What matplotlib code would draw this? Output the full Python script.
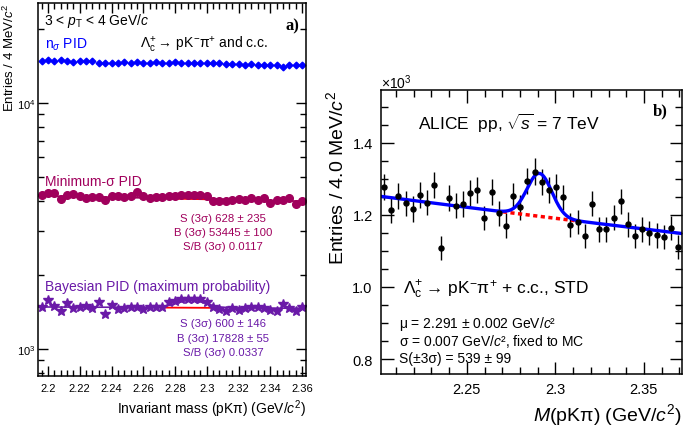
import numpy as np
import matplotlib.pyplot as plt
from matplotlib.ticker import MultipleLocator, FormatStrFormatter, LogLocator, NullFormatter, FixedLocator

plt.rcParams['font.family'] = ['Liberation Sans', 'DejaVu Sans']
plt.rcParams['mathtext.fontset'] = 'custom'
plt.rcParams['mathtext.rm'] = 'Liberation Sans'
plt.rcParams['mathtext.it'] = 'Liberation Sans:italic'
plt.rcParams['mathtext.bf'] = 'Liberation Sans:bold'

# ---- panel a) data: three PID strategies, 4 MeV bins ----
mass_a = np.round(2.196 + 0.004 * np.arange(42), 3)

nsigma_counts = [14820, 14850, 14820, 14850, 14830, 14580, 14750, 14760, 14780, 14520,
                 14560, 14550, 14560, 14570, 14540, 14580, 14520, 14560, 14580, 14540,
                 14560, 14570, 14560, 14520, 14550, 14500, 14450, 14500, 14470, 14300,
                 14350, 14300, 14280, 14350, 14250, 14220, 14200, 14230, 14000, 14250,
                 14220, 14180]

minsigma_counts = [4200, 4290, 4310, 4060, 4230, 4240, 4170, 4100, 4150, 4140,
                   4040, 4180, 4190, 4150, 4160, 4330, 4160, 4090, 4140, 4140,
                   4160, 4170, 4210, 4200, 4200, 4230, 4180, 4000, 3980, 3990,
                   4030, 4060, 4010, 4090, 4040, 4110, 3900, 4040, 4030, 4090,
                   3890, 3980]

bayes_counts = [1484, 1578, 1497, 1428, 1531, 1465, 1484, 1497, 1465, 1546,
                1386, 1511, 1452, 1465, 1484, 1475, 1452, 1475, 1475, 1475,
                1546, 1570, 1593, 1593, 1593, 1593, 1546, 1475, 1452, 1428,
                1465, 1439, 1465, 1484, 1484, 1465, 1439, 1428, 1520, 1465,
                1428, 1475]

# fit parameters read off panel a) (background ends, gaussian amplitude/mean/width, bkg-only range)
minsigma_bkg = [4180, 3980]
minsigma_gaus = [111, 2.289, 0.009]
minsigma_range = [2.277, 2.304]
bayes_bkg = [1480, 1462]
bayes_gaus = [106, 2.290, 0.009]
bayes_range = [2.272, 2.306]

# ---- panel b) data ----
mass_b = np.linspace(2.2032, 2.3693, 42)
counts_b = [1277, 1212, 1252, 1232, 1216, 1255, 1234, 1283, 1108, 1246,
            1225, 1230, 1260, 1269, 1191, 1264, 1204, 1170, 1252, 1221,
            1294, 1320, 1290, 1268, 1277, 1248, 1172, 1180, 1141, 1231,
            1160, 1160, 1192, 1237, 1174, 1141, 1160, 1150, 1143, 1138,
            1163, 1112]
fit_bkg0 = 1252      # background at 2.2 GeV/c^2
fit_slope = -0.505   # exponential slope
fit_amp = 119
fit_mu = 2.291
fit_sigma = 0.007
bkg_only_range = [2.270, 2.311]

blue = '#0000ff'
maroon = '#a0005c'
purple = '#6a1aa8'

LC = '$\\Lambda_{\\rm c}^{+} \\rightarrow\\,$pK$^{-}$π$^{+}$'


def ticks_inside(ax, major, minor):
    ax.tick_params(which='both', direction='in', top=True, right=True, width=1.0)
    ax.tick_params(which='major', length=major)
    ax.tick_params(which='minor', length=minor)
    for s in ax.spines.values():
        s.set_linewidth(1.1)


fig = plt.figure(figsize=(6.85, 4.35), dpi=100)

# ================= panel a) =================
ax1 = fig.add_axes([0.0555, 0.1333, 0.3912, 0.8575])
x_a = mass_a
ax1.errorbar(x_a, nsigma_counts, yerr=np.sqrt(nsigma_counts), fmt='D', ms=3.4,
             color=blue, mec=blue, elinewidth=0.8, capsize=0)

xx = np.linspace(2.194, 2.3625, 400)


def pid_fit(x, bkg, gaus):
    b = bkg[0] * (bkg[1] / bkg[0]) ** ((x - 2.196) / 0.164)
    return b, b + gaus[0] * np.exp(-0.5 * ((x - gaus[1]) / gaus[2]) ** 2)


b_ms, t_ms = pid_fit(xx, minsigma_bkg, minsigma_gaus)
ax1.plot(xx, t_ms, color=maroon, lw=1.2)
sel = (xx >= minsigma_range[0]) & (xx <= minsigma_range[1])
ax1.plot(xx[sel], b_ms[sel], color='red', lw=1.3)
ax1.plot(x_a, minsigma_counts, 'o', ms=5.5, color=maroon)

b_by, t_by = pid_fit(xx, bayes_bkg, bayes_gaus)
ax1.plot(xx, t_by, color=purple, lw=1.2)
sel = (xx >= bayes_range[0]) & (xx <= bayes_range[1])
ax1.plot(xx[sel], b_by[sel], color='red', lw=1.3)
ax1.plot(x_a, bayes_counts, '*', ms=7, color=purple)

ax1.set_yscale('log')
ax1.set_xlim(2.1937, 2.3625)
ax1.set_ylim(776, 25400)
ax1.xaxis.set_major_locator(MultipleLocator(0.02))
ax1.xaxis.set_minor_locator(MultipleLocator(0.004))
ax1.xaxis.set_major_formatter(FormatStrFormatter('%g'))
ax1.yaxis.set_major_locator(LogLocator(base=10))
ax1.yaxis.set_minor_locator(LogLocator(base=10, subs=np.arange(2, 10)))
ax1.yaxis.set_minor_formatter(NullFormatter())
ticks_inside(ax1, 7, 4)
ax1.tick_params(axis='x', labelsize=8, pad=5)
ax1.tick_params(axis='y', labelsize=8, pad=2)
ax1.set_xlabel('Invariant mass (pKπ) (GeV/$c^2$)', fontsize=10, loc='right')
ax1.xaxis.set_label_coords(1.0, -0.056)
ax1.set_ylabel('Entries / 4 MeV/$c^2$', fontsize=9.5, loc='top')
ax1.yaxis.set_label_coords(-0.08, 1.0)

t = ax1.transAxes
ax1.text(0.022, 0.954, '3 < $p_{\\rm T}$ < 4 GeV/$c$', transform=t, fontsize=10, va='center')
ax1.text(0.948, 0.941, 'a)', transform=t, fontsize=12, va='center', ha='center',
         family='Liberation Serif', weight='bold')
ax1.text(0.026, 0.89, 'n$_{σ}$ PID', transform=t, fontsize=10, va='center', color=blue)
ax1.text(0.381, 0.89, LC + ' and c.c.', transform=t, fontsize=10, va='center')
ax1.text(0.026, 0.5236, 'Minimum-σ PID', transform=t, fontsize=10, va='center', color=maroon)
for y, s in zip([0.4236, 0.387, 0.3477],
                ['S (3σ) 628 ± 235', 'B (3σ) 53445 ± 100', 'S/B (3σ) 0.0117']):
    ax1.text(0.69, y, s, transform=t, fontsize=8.2, va='center', ha='center', color=maroon)
ax1.text(0.026, 0.242, 'Bayesian PID (maximum probability)', transform=t, fontsize=10,
         va='center', color=purple)
for y, s in zip([0.142, 0.102, 0.065],
                ['S (3σ) 600 ± 146', 'B (3σ) 17828 ± 55', 'S/B (3σ) 0.0337']):
    ax1.text(0.69, y, s, transform=t, fontsize=8.2, va='center', ha='center', color=purple)

# ================= panel b) =================
ax2 = fig.add_axes([0.5562, 0.1379, 0.4394, 0.6529])
cb = np.array(counts_b, dtype=float)
ax2.errorbar(mass_b, cb / 1000, yerr=np.sqrt(cb) / 1000, fmt='o', ms=3.6, color='black',
             elinewidth=1.0, capsize=0)
mm = np.linspace(2.2015, 2.3715, 500)
bkg = fit_bkg0 * np.exp(fit_slope * (mm - 2.2))
tot = bkg + fit_amp * np.exp(-0.5 * ((mm - fit_mu) / fit_sigma) ** 2)
sel = (mm >= bkg_only_range[0]) & (mm <= bkg_only_range[1])
ax2.plot(mm[sel], bkg[sel] / 1000, color='red', lw=2.5, ls=(0, (1.2, 1.0)))
ax2.plot(mm, tot / 1000, color=blue, lw=2.4)

ax2.set_xlim(2.2015, 2.3715)
ax2.set_ylim(0.7586, 1.546)
ax2.xaxis.set_major_locator(FixedLocator([2.25, 2.3, 2.35]))
ax2.xaxis.set_major_formatter(FormatStrFormatter('%g'))
ax2.xaxis.set_minor_locator(MultipleLocator(0.01))
ax2.yaxis.set_major_locator(MultipleLocator(0.2))
ax2.yaxis.set_minor_locator(MultipleLocator(0.05))
ax2.yaxis.set_major_formatter(FormatStrFormatter('%.1f'))
ticks_inside(ax2, 9, 5)
ax2.tick_params(labelsize=10.5, pad=6)
ax2.set_xlabel('$M$(pKπ) (GeV/$c^2$)', fontsize=14, loc='right')
ax2.xaxis.set_label_coords(1.0, -0.095)
ax2.set_ylabel('Entries / 4.0 MeV/$c^2$', fontsize=14, loc='top')
ax2.yaxis.set_label_coords(-0.113, 1.0)

t = ax2.transAxes
ax2.text(0.0, 1.028, '×10$^3$', transform=t, fontsize=10, va='center')
ax2.text(0.927, 0.927, 'b)', transform=t, fontsize=12, va='center', ha='center',
         family='Liberation Serif', weight='bold')
ax2.text(0.123, 0.887, 'ALICE  pp, $\\sqrt{s}$ = 7 TeV', transform=t, fontsize=12.5, va='center')
ax2.text(0.073, 0.299, LC + ' + c.c., STD', transform=t, fontsize=12.5, va='center')
ax2.text(0.06, 0.181, 'μ = 2.291 ± 0.002 GeV/$c$²', transform=t, fontsize=10, va='center')
ax2.text(0.06, 0.118, 'σ = 0.007 GeV/$c$², fixed to MC', transform=t, fontsize=10, va='center')
ax2.text(0.06, 0.055, 'S(±3σ) = 539 ± 99', transform=t, fontsize=10, va='center')

fig.savefig('out.png', dpi=100)
